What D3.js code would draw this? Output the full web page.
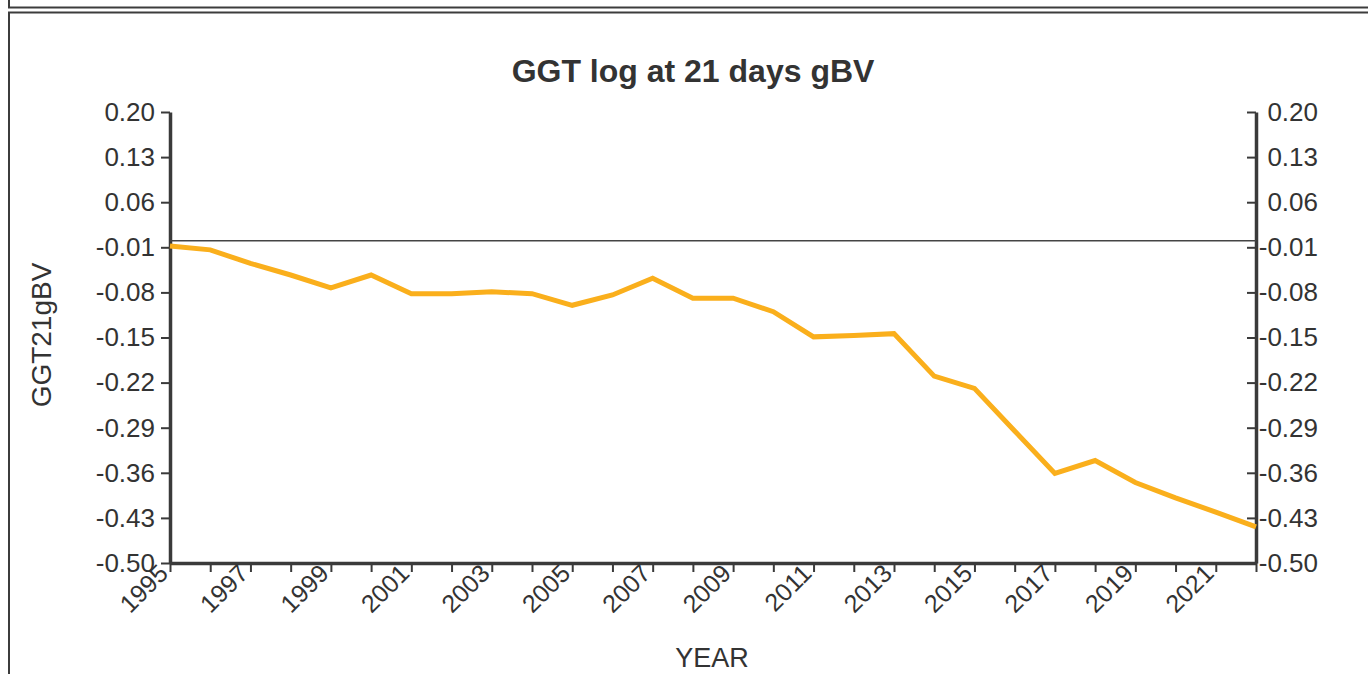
<!DOCTYPE html>
<html>
<head>
<meta charset="utf-8">
<script src="https://cdn.jsdelivr.net/npm/d3@7"></script>
<style>
  body { margin: 0; background: #fff; overflow: hidden; }
  text { font-family: "Liberation Sans", Arial, sans-serif; fill: #333; }
</style>
</head>
<body>
<div id="chart"></div>
<script>

/********** chart data ***********/
var years = [1995, 1996, 1997, 1998, 1999, 2000, 2001, 2002, 2003, 2004, 2005, 2006, 2007, 2008,
             2009, 2010, 2011, 2012, 2013, 2014, 2015, 2016, 2017, 2018, 2019, 2020, 2021, 2022];
var ggt21 = [-0.008, -0.014, -0.035, -0.053, -0.073, -0.053, -0.082, -0.082, -0.079, -0.082,
             -0.100, -0.084, -0.058, -0.089, -0.089, -0.110, -0.149, -0.147, -0.144, -0.210,
             -0.229, -0.295, -0.361, -0.341, -0.375, -0.399, -0.421, -0.444];
var xLabelYears = [1995, 1997, 1999, 2001, 2003, 2005, 2007, 2009, 2011, 2013, 2015, 2017, 2019, 2021];
var yTicks = [0.20, 0.13, 0.06, -0.01, -0.08, -0.15, -0.22, -0.29, -0.36, -0.43, -0.50];
var yTickLabels = ["0.20", "0.13", "0.06", "-0.01", "-0.08", "-0.15", "-0.22", "-0.29", "-0.36", "-0.43", "-0.50"];
var zeroLine = [0];

var W = 1368, H = 674;
var margin = {top: 112, right: 112, bottom: 111, left: 170};
var width = W - margin.left - margin.right,
    height = H - margin.top - margin.bottom;

var svg = d3.select("#chart")
  .append("svg")
  .attr("width", W)
  .attr("height", H);

// page boxes around the chart
svg.append("rect")
  .attr("x", 9).attr("y", -20)
  .attr("width", W + 20).attr("height", 27.5)
  .attr("fill", "none").attr("stroke", "#3c3c3c").attr("stroke-width", 2);
svg.append("rect")
  .attr("x", 9).attr("y", 12.5)
  .attr("width", W + 20).attr("height", H + 20)
  .attr("fill", "none").attr("stroke", "#3c3c3c").attr("stroke-width", 2);

var g = svg.append("g")
  .attr("transform", "translate(" + margin.left + "," + margin.top + ")");

// scales
var x = d3.scaleLinear()
  .domain([years[0], years[years.length - 1]])
  .range([0, width]);

var y = d3.scaleLinear()
  .domain([-0.50, 0.20])
  .range([height, 0]);

function yFmt(d) {
  return yTickLabels[yTicks.indexOf(d)];
}

// left axis
var yLeft = g.append("g")
  .call(d3.axisLeft(y).tickValues(yTicks).tickFormat(yFmt).tickSize(9).tickSizeOuter(0).tickPadding(6));

// right axis (ticks point inward, labels right aligned)
var yRight = g.append("g")
  .attr("transform", "translate(" + width + ",0)")
  .call(d3.axisRight(y).tickValues(yTicks).tickFormat(yFmt).tickSize(-9).tickSizeOuter(0));

// bottom axis
var xAxis = g.append("g")
  .attr("transform", "translate(0," + height + ")")
  .call(d3.axisBottom(x).tickValues(years).tickSize(9).tickSizeOuter(0)
    .tickFormat(function (d) { return xLabelYears.indexOf(d) >= 0 ? String(d) : ""; }));

[yLeft, yRight, xAxis].forEach(function (a) {
  a.select(".domain").attr("stroke", "#3a3a3a").attr("stroke-width", 3.5);
  a.selectAll(".tick line").attr("stroke", "#3a3a3a").attr("stroke-width", 2);
  a.selectAll(".tick text").style("font-size", "26px").attr("fill", "#333");
});

yRight.selectAll(".tick text")
  .attr("text-anchor", "end")
  .attr("x", 62);

xAxis.selectAll("text")
  .style("font-size", "25px")
  .attr("text-anchor", "end")
  .attr("dy", null)
  .attr("y", null)
  .attr("transform", "translate(-1,12) rotate(-45)");

// zero reference line
g.selectAll(".zero")
  .data(zeroLine)
  .enter()
  .append("line")
  .attr("class", "zero")
  .attr("x1", 0).attr("x2", width)
  .attr("y1", function (d) { return y(d); })
  .attr("y2", function (d) { return y(d); })
  .attr("stroke", "#444")
  .attr("stroke-width", 1.5);

// data line
var line = d3.line()
  .x(function (d, i) { return x(years[i]); })
  .y(function (d) { return y(d); });

g.append("path")
  .datum(ggt21)
  .attr("d", line)
  .attr("fill", "none")
  .attr("stroke", "#FAAF1C")
  .attr("stroke-width", 5)
  .attr("stroke-linejoin", "miter");

// title and axis labels
svg.append("text")
  .attr("x", 693).attr("y", 82)
  .attr("text-anchor", "middle")
  .style("font-size", "32px")
  .style("font-weight", "bold")
  .text("GGT log at 21 days gBV");

svg.append("text")
  .attr("transform", "translate(51,335) rotate(-90)")
  .attr("text-anchor", "middle")
  .style("font-size", "28px")
  .text("GGT21gBV");

svg.append("text")
  .attr("x", 712).attr("y", 667)
  .attr("text-anchor", "middle")
  .style("font-size", "27px")
  .text("YEAR");

</script>
</body>
</html>
